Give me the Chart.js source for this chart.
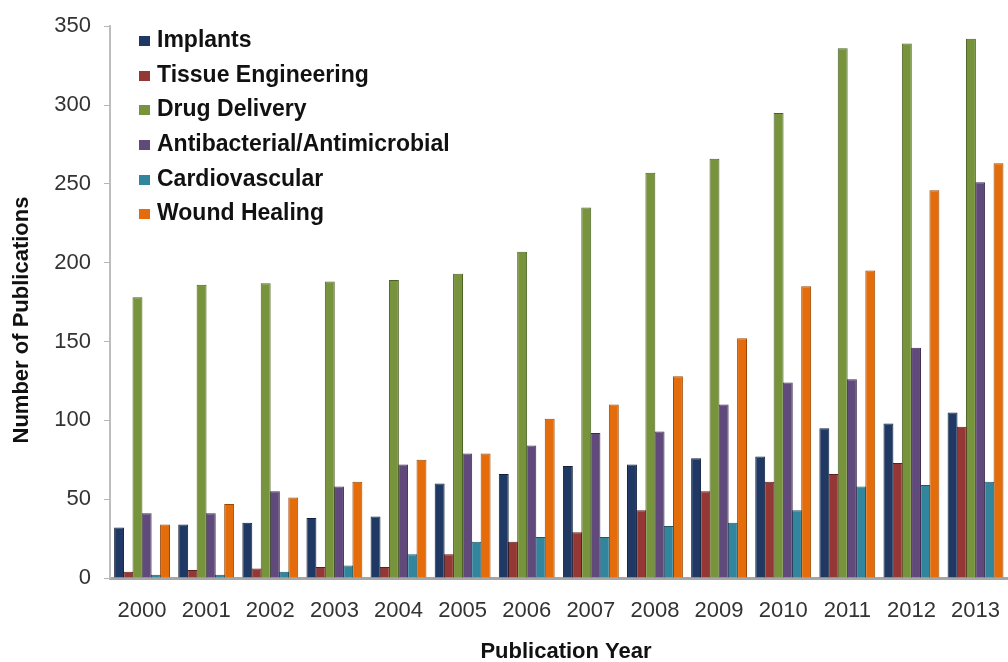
<!DOCTYPE html>
<html>
<head>
<meta charset="utf-8">
<script src="https://cdn.jsdelivr.net/npm/chart.js"></script>
<style>
  body { margin: 0; background: #fff; overflow: hidden; }
  .wrap { position: relative; width: 1008px; height: 662px; overflow: hidden; }
  #legend {
    position: absolute; left: 139px; top: 22px;
    list-style: none; margin: 0; padding: 0;
    font-family: "Liberation Sans", Arial, sans-serif;
    font-weight: bold; font-size: 23px; color: #111;
  }
  #legend li { height: 34.7px; line-height: 34.7px; white-space: nowrap; }
  #legend span.box {
    display: inline-block; width: 11px; height: 10px;
    margin-right: 7px; vertical-align: 1px;
  }
</style>
</head>
<body>
<div class="wrap">
  <canvas id="myChart" width="1020" height="662"></canvas>
  <ul id="legend"></ul>
</div>
<script>
const years = ['2000', '2001', '2002', '2003', '2004', '2005', '2006',
               '2007', '2008', '2009', '2010', '2011', '2012', '2013'];

const implants       = [32, 34, 35, 38, 39, 60, 66, 71, 72, 76, 77, 95, 98, 105];
const tissueEng      = [4, 5, 6, 7, 7, 15, 23, 29, 43, 55, 61, 66, 73, 96];
const drugDelivery   = [178, 186, 187, 188, 189, 193, 207, 235, 257, 266, 295, 336, 339, 342];
const antibacterial  = [41, 41, 55, 58, 72, 79, 84, 92, 93, 110, 124, 126, 146, 251];
const cardiovascular = [2, 2, 4, 8, 15, 23, 26, 26, 33, 35, 43, 58, 59, 61];
const woundHealing   = [34, 47, 51, 61, 75, 79, 101, 110, 128, 152, 185, 195, 246, 263];

const yTicks = [0, 50, 100, 150, 200, 250, 300, 350];

const xTitle = 'Publication Year';
const yTitle = 'Number of Publications';

const font = '"Liberation Sans", Arial, sans-serif';

function series(label, data, color, edge) {
    return {
        label: label,
        data: data,
        backgroundColor: color,
        borderColor: edge,
        borderWidth: 1
    };
}

// axis titles drawn by hand so they sit where the original has them
const axisTitles = {
    id: 'axisTitles',
    afterDraw(chart) {
        const c = chart.ctx;
        c.save();
        c.fillStyle = '#111';
        c.font = 'bold 22px ' + font;
        c.textAlign = 'center';
        c.textBaseline = 'middle';
        c.fillText(xTitle, 566, 652);
        c.translate(22, 320);
        c.rotate(-Math.PI / 2);
        c.fillText(yTitle, 0, 0);
        c.restore();
    }
};

const ctx = document.getElementById('myChart');

const chart = new Chart(ctx, {
    type: 'bar',
    data: {
        labels: years,
        datasets: [
            series('Implants', implants, '#1F3864', '#10213d'),
            series('Tissue Engineering', tissueEng, '#953735', '#5e1f1e'),
            series('Drug Delivery', drugDelivery, '#77933C', '#4c6125'),
            series('Antibacterial/Antimicrobial', antibacterial, '#604A7B', '#3c2d4f'),
            series('Cardiovascular', cardiovascular, '#31859C', '#1d5866'),
            series('Wound Healing', woundHealing, '#E46C0A', '#9c4906')
        ]
    },
    plugins: [axisTitles],
    options: {
        responsive: false,
        animation: false,
        devicePixelRatio: 1,
        layout: {
            padding: { top: 24, right: 0, bottom: 0, left: 0 }
        },
        datasets: {
            bar: {
                categoryPercentage: 0.86,
                barPercentage: 1.08
            }
        },
        plugins: {
            legend: { display: false },
            tooltip: { enabled: false }
        },
        scales: {
            x: {
                grid: { display: false, drawTicks: false },
                border: { display: true, color: '#a6a6a6', width: 3 },
                ticks: {
                    color: '#333',
                    padding: 20,
                    maxRotation: 0,
                    font: { family: font, size: 22 }
                },
                afterFit: (scale) => { scale.height = 84; }
            },
            y: {
                min: 0,
                max: 350,
                afterBuildTicks: (scale) => {
                    scale.ticks = yTicks.map(v => ({ value: v }));
                },
                grid: {
                    display: true,
                    drawOnChartArea: false,
                    tickLength: 6,
                    color: '#b5b5b5'
                },
                border: { display: true, color: '#bdbdbd', width: 2 },
                ticks: {
                    color: '#333',
                    padding: 13,
                    font: { family: font, size: 22 }
                },
                afterFit: (scale) => { scale.width = 110; }
            }
        }
    }
});

const legend = document.getElementById('legend');
chart.data.datasets.forEach((ds) => {
    const item = document.createElement('li');
    const box = document.createElement('span');
    box.className = 'box';
    box.style.background = ds.backgroundColor;
    item.appendChild(box);
    item.appendChild(document.createTextNode(ds.label));
    legend.appendChild(item);
});
</script>
</body>
</html>
